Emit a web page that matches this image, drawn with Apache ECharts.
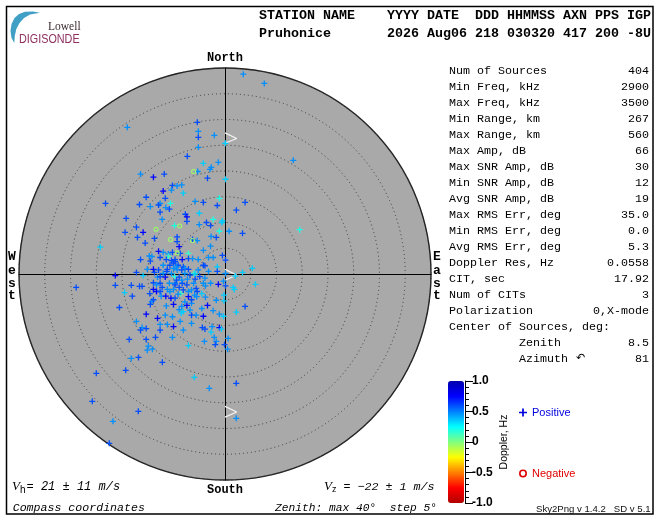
<!DOCTYPE html>
<html>
<head>
<meta charset="utf-8">
<title>Skymap</title>
<script src="https://cdn.jsdelivr.net/npm/echarts@6/dist/echarts.min.js"></script>
<style>html,body{margin:0;padding:0;background:#fff}#c{width:660px;height:520px}</style>
</head>
<body>
<div id="c"></div>
<script>
// Doppler shades (Hz)
const D=0.74,B=0.6,S=0.47,C=0.35,G=0.15;
// [east deg, north deg, Doppler Hz]
const positiveSources=[
[3.55,38.8,S],[7.63,37,S],[-18.97,28.49,S],[-5.38,29.46,B],[-5.18,27.71,S],[-5.18,26.54,B],[-2.08,26.93,S],[0.06,25.38,C],[-5.18,24.6,S],[-7.32,22.85,B],[-4.21,21.5,C],[-1.3,21.69,S],[13.26,22.08,S],[-2.66,20.72,S],[-2.91,20.33,S],
[-16.4,19.4,S],[-13.9,18.8,D],[-11.8,19.4,B],[-5.3,19.9,S],[-3.4,18.6,B],[0.1,18.4,C],[-10.2,17.2,B],[-9.3,17.1,S],[-8.4,17.3,S],[-10.4,16.3,S],[-12,16.1,D],[-8.1,15.7,C],[-15.3,14.9,B],[-11.6,14.7,B],[-1.1,14.7,0.2],
[-23.2,13.7,B],[-16.6,13.5,B],[-14.5,13.1,S],[-12.6,13.7,S],[-12.9,13.4,B],[-10.6,13.7,0.2],[-11.5,12.9,S],[-10.8,12.6,B],[-5.8,14.1,S],[-4.2,13.9,B],[-1.5,13.3,B],[3.9,13.9,B],[2.2,12.4,B],[-12.6,12,B],[-7.7,11.6,B],[-7.4,11.1,D],[-5,11.8,C],
[-19.2,10.8,B],[-12.2,10.6,S],[-7.4,10.2,B],[-2.3,10.6,0.2],[-0.5,10.3,C],[-0.6,10,C],[-3.6,10,B],[-5,9.6,S],[-2.8,9.4,B],[-9.8,9.4,0.2],[-17.2,9.1,B],[-1.1,8.3,0.2],[0.8,8.3,S],[-19.4,8.1,B],[-15.9,8.1,D],[3.4,7.9,B],
[-17,7.1,B],[-13.7,6.9,B],[-2.7,7.3,S],[-1.7,7.1,B],[-9.3,7.2,B],[-6.3,6.7,B],[-5.4,6.5,S],[-15.5,6,B],[-9.3,6.3,B],[-8.9,5.3,D],[-2.8,5.4,S],[-24.2,5.2,C],
[-12.9,4.4,D],[-4.2,4.6,S],[-10.2,4.2,B],[-12,4.2,S],[-11,3.9,S],[-8.7,4,B],[-7.1,4,G],[-14.7,3.5,S],[-14.2,3.4,S],[-12.6,3.2,B],[-16.4,2.8,B],[-11,3.4,G],[-11.4,2.8,B],[-10.4,2.6,B],[-9.7,2.8,B],[-8.3,2.8,D],[-7.1,3,B],[-6.3,3,S],[-5.2,2.8,S],[-3.2,3.2,S],[-2.3,3.2,S],[-0.5,3.6,B],[0.1,2.7,B],
[-14.5,2.5,B],[-10,2.1,B],[-9.1,1.7,B],[-8.1,1.4,B],[-7.8,1.1,S],[-4.2,1.7,B],[-3.9,1.6,B],[-1.5,1.4,C],[5.3,1.1,C],[-15.1,0.9,S],[-13.9,0.9,D],[-12.9,0.8,B],[-11.2,0.9,B],[-10,1.1,S],[-9.3,0.8,S],[-7.1,0.9,B],[-6,0.1,G],[-5.8,0,C],[-17.2,0.3,B],[-13.7,0.3,B],[-12,0.1,S],[-5.2,0.8,S],[-3.2,0.5,S],[-1.5,0.5,B],[0.1,0.1,S],[3.4,0.3,C],
[-21.3,-0.3,D],[-15.9,-0.3,C],[-13.1,-0.6,S],[-11.6,-0.6,D],[-9.8,-0.5,0.2],[-8.9,-0.6,B],[-7.3,-1,S],[-5.8,-1,B],[-0.3,-1.4,S],[2,-0.4,C],[-13.9,-1.7,B],[-12.6,-1.8,B],[-10.8,-1.8,S],[-9.7,-1.8,S],[-8.3,-1.8,B],[-6.1,-1.8,S],[-4.2,-1.8,S],[-3.8,-2.3,S],[-2.8,-1.8,S],[-1.3,-2,D],[0.1,-2.3,B],[5.9,-2,C],
[-21.3,-2.2,B],[-18.2,-2.2,B],[-16.6,-2.4,B],[-16.1,-2.4,B],[-13.9,-3,D],[-14.6,-3.8,B],[-13.3,-3.4,D],[-12.2,-2.6,B],[-11.2,-3,S],[-10,-3,S],[-8.9,-2.6,B],[-5.6,-2.8,B],[1.6,-2.6,C],[1.8,-3,C],[-19.5,-3.6,C],[-18,-4.3,B],[-14.2,-5.3,S],[-13.9,-5,B],[-12.4,-4.3,S],[-11.5,-4.3,D],[-10.5,-4.7,D],[-8.6,-3.8,G],[-7.1,-4.4,D],[-5.9,-4.1,S],[-4.5,-3.8,C],[-3.8,-4.5,S],[-1.7,-5.1,S],[-0.2,-4.1,C],[-0.2,-5.2,C],
[-20.5,-6.5,B],[-14.5,-5.9,B],[-11.4,-6.2,S],[-10,-5.9,D],[-8.9,-6.9,S],[-7.4,-6.1,D],[-6.5,-5.7,S],[-4.5,-6.7,S],[-3.4,-6.1,D],[-2.3,-7.1,S],[3.9,-6.3,B],[-15.3,-7.8,D],[-13.1,-8.6,D],[-11.6,-8,S],[-10.2,-8.3,S],[-8.5,-7.6,C],[-8.1,-7.3,C],[-6.5,-8,B],[-5.6,-8,S],[-4.2,-8.2,D],[-1.1,-7.8,S],[-0.3,-8.2,C],[2.2,-7.4,C],
[-17.2,-9.2,S],[-16.1,-10.4,S],[-15.3,-10.6,B],[-16.4,-10.9,B],[-12.6,-9.8,S],[-12.6,-10.9,B],[-11.2,-9.8,S],[-10,-10.2,D],[-8.7,-9.2,S],[-6.5,-9.6,S],[-8.1,-10.9,S],[-4.4,-10.4,B],[-3.9,-10.7,B],[-2.5,-10.2,S],[-1.1,-10.4,D],[-0.7,-10.7,C],[-2.7,-11.3,C],
[-13.5,-12.3,B],[-15.3,-12.7,B],[-18.6,-12.7,B],[-10.2,-12.3,S],[-2.1,-12.3,S],[-4,-13.1,S],[-1.7,-13.1,S],[0.6,-12.5,S],[-0.1,-13.7,B],[-1.9,-13.7,B],[-7.1,-13.9,C],[-14.9,-14,S],[-15.1,-14.8,S],[-14.1,-14.6,S],[0.5,-14.6,S],[-18.2,-16.4,S],[-16.8,-16.2,B],[-28.9,-2.6,B],
[-10.7,1.7,B],[-9.7,2.4,B],[-9.4,1.4,S],[-8.4,0.8,B],[-7.8,0.1,S],[-6.8,-0.2,B],[-12,1.7,S],[-12.6,-0.5,B],[-11.3,0.5,B],[-10.4,0.1,S],[-9.4,-1.2,B],[-8.4,-1.2,S],[-7.4,-2.1,B],[-6.5,-3.1,S],[-5.4,-3.4,B],[-7.1,-3.4,S],[-8.1,-3.1,B],[-9.1,-3.9,S],[-9.7,-4.7,B],[-6.5,-5,B],[-5.5,-4.4,S],[-7.8,-5.4,S],[-6.8,-7,S],[-8.4,-6.3,S],[-9.7,-2.1,B],[-10.7,-3.4,S],[-12.6,-3.4,B],[-13.3,-2.1,S],[-4.9,-0.5,B],[-3.9,-0.8,S],
[14.5,8.6,0.2],[-12.17,-17.15,B],[-24.99,-19.28,B],[-19.28,-18.7,B],[-5.96,-20.06,C],[2.19,-21.22,B],[-3.05,-22.19,S],[-25.77,-24.72,B],[-16.83,-26.66,B],[-21.75,-28.6,S],[2.19,-28.02,S],[-22.47,-32.87,B]
];
const negativeSources=[[-6.1,19.9,-0.05],[-8.8,9.3,-0.05],[-13.4,8.7,-0.05],[-10.6,6.7,-0.05],[-6.3,6.5,-0.05],[-9.3,4.1,-0.05]];
// white chevrons on the north-south line
const chevronNorth=[[0,27.4],[2.27,26.3],[0,25.4]];
const chevronCentre=[[0,0.9],[2.27,-0.2],[0,-1.2]];
const chevronSouth=[[0,-25.7],[2.27,-26.8],[0,-27.8]];

const colorStops=['#b00000','#ff0000','#ff8000','#ffff00','#80ff80','#00ffff','#0080ff','#0000ff','#0000b0'];

const headerLine1='YYYY DATE  DDD HHMMSS AXN PPS IGP';
const headerLine2='2026 Aug06 218 030320 417 200 -8U';
const statLabels=['Num of Sources','Min Freq, kHz','Max Freq, kHz','Min Range, km','Max Range, km','Max Amp, dB','Max SNR Amp, dB','Min SNR Amp, dB','Avg SNR Amp, dB','Max RMS Err, deg','Min RMS Err, deg','Avg RMS Err, deg','Doppler Res, Hz','CIT, sec','Num of CITs','Polarization'];
const statValues=['404','2900','3500','267','560','66','30','12','19','35.0','0.0','5.3','0.0558','17.92','3','0,X-mode'];

const MONO='"Liberation Mono",monospace', SANS='"Liberation Sans",sans-serif';
const PLUS='path://M-0.65,-3H0.65V-0.65H3V0.65H0.65V3H-0.65V0.65H-3V-0.65H-0.65Z';
const RING='path://M-5,0A5,5 0 1,1 5,0A5,5 0 1,1 -5,0ZM-3,0A3,3 0 1,0 3,0A3,3 0 1,0 -3,0Z';

function txt(x,y,text,opt){
  const o=opt||{};
  return {type:'text',x:x,y:y,z:20,silent:true,scaleX:o.scaleX||1,style:Object.assign({text:text,fill:'#000',font:(o.font||'11.67px '+MONO),textAlign:o.align||'left',textVerticalAlign:'middle'},o.style||{})};
}
const LETTER='bold 13px '+MONO;
const graphics=[
  {type:'rect',shape:{x:6.5,y:6.5,width:646.5,height:507.5},z:0,silent:true,style:{fill:'#fff',stroke:'#000',lineWidth:1.5}},
  {type:'polygon',z:20,silent:true,shape:{points:[[40,12.8],[33,11.6],[25,11.8],[19,14],[14.5,18],[11.5,24],[10.5,31],[11.5,38],[14.3,43],[14.8,36],[16.3,29],[19.5,23],[24,18],[30,14.5]]},style:{fill:'#3f9fc4'}},
  txt(48,27,'Lowell',{font:'11.5px "Liberation Serif",serif',style:{fill:'#3a2a30'}}),
  txt(19,39.5,'DIGISONDE',{font:'12px '+SANS,scaleX:0.9,style:{fill:'#8e2f60'}}),
  txt(259,16,'STATION NAME',{font:'bold 13.33px '+MONO}),
  txt(387,16,headerLine1,{font:'bold 13.33px '+MONO}),
  txt(259,34,'Pruhonice',{font:'bold 13.33px '+MONO}),
  txt(387,34,headerLine2,{font:'bold 13.33px '+MONO}),
  txt(225,58,'North',{align:'center',font:'bold 12px '+MONO}),
  txt(225,490,'South',{align:'center',font:'bold 12px '+MONO}),
  txt(12,257,'W',{align:'center',font:LETTER}),
  txt(12,271,'e',{align:'center',font:LETTER}),
  txt(12,283.5,'s',{align:'center',font:LETTER}),
  txt(12,296,'t',{align:'center',font:LETTER}),
  txt(437,257,'E',{align:'center',font:LETTER}),
  txt(437,271,'a',{align:'center',font:LETTER}),
  txt(437,283.5,'s',{align:'center',font:LETTER}),
  txt(437,296,'t',{align:'center',font:LETTER}),
  txt(449,327,'Center of Sources, deg:'),
  txt(519,343,'Zenith'),txt(649,343,'8.5',{align:'right'}),
  txt(519,359,'Azimuth'),txt(649,359,'81',{align:'right'}),
  txt(576,358,'\u21B6',{font:'11px "DejaVu Sans",sans-serif'}),
  {type:'text',x:12,y:487,z:20,silent:true,style:{text:'{v|V}{s|h}= 21 \u00B1 11 m/s',textVerticalAlign:'middle',font:'italic 12px '+MONO,fill:'#000',rich:{v:{font:'italic 13px "Liberation Serif",serif'},s:{font:'10px '+SANS,verticalAlign:'bottom',padding:[6,1,0,0]}}}},
  {type:'text',x:324,y:487,z:20,silent:true,style:{text:'{v|V}{s|z} = \u221222 \u00B1 1 m/s',textVerticalAlign:'middle',font:'italic 11.7px '+MONO,fill:'#000',rich:{v:{font:'italic 13px "Liberation Serif",serif'},s:{font:'9px '+SANS,verticalAlign:'bottom',padding:[6,0,0,0]}}}},
  txt(12.7,508,'Compass coordinates',{font:'italic 11.6px '+MONO}),
  txt(275,508,'Zenith: max 40\u00B0  step 5\u00B0',{font:'italic 11.25px '+MONO}),
  txt(536,509,'Sky2Png v 1.4.2   SD v 5.1',{font:'9.6px '+SANS,style:{fill:'#111'}})
];
statLabels.forEach((s,i)=>{
  graphics.push(txt(449,71+16*i,s));
  graphics.push(txt(649,71+16*i,statValues[i],{align:'right'}));
});

function chevron(d){return {type:'line',data:d,xAxisIndex:0,yAxisIndex:0,showSymbol:false,symbol:'none',silent:true,z:3,lineStyle:{color:'#f4f4f4',width:1.2},animation:false};}

const chart=echarts.init(document.getElementById('c'),null,{renderer:'canvas',width:660,height:520});
chart.setOption({
  animation:false,
  backgroundColor:'#fff',
  textStyle:{fontFamily:SANS},
  polar:{center:[225,274],radius:206},
  angleAxis:{z:1,type:'value',min:0,max:360,interval:90,startAngle:90,axisLine:{show:true,lineStyle:{color:'#222',width:1.4}},axisTick:{show:false},axisLabel:{show:false},splitLine:{show:false},
    splitArea:{show:true,areaStyle:{color:['#a9a9a9']}}},
  radiusAxis:{z:2,type:'value',min:0,max:40,interval:5,axisLine:{show:false},axisTick:{show:false},axisLabel:{show:false},
    splitArea:{show:false},
    splitLine:{show:true,lineStyle:{color:'#3c3c3c',width:1,type:[1,3]}}},
  grid:[
    {left:19,top:68,width:412,height:412},
    {left:464,top:381,width:1,height:122}
  ],
  xAxis:[
    {z:3,gridIndex:0,type:'value',min:-40,max:40,axisLine:{onZero:true,lineStyle:{color:'#000',width:1}},axisTick:{show:false},axisLabel:{show:false},splitLine:{show:false}},
    {gridIndex:1,type:'value',show:false,min:0,max:1}
  ],
  yAxis:[
    {z:3,gridIndex:0,type:'value',min:-40,max:40,axisLine:{onZero:true,lineStyle:{color:'#000',width:1}},axisTick:{show:false},axisLabel:{show:false},splitLine:{show:false}},
    {gridIndex:1,type:'value',position:'left',min:-1,max:1,interval:0.5,offset:-1,
      axisLine:{show:true,lineStyle:{color:'#000'}},
      axisTick:{show:true,inside:true,length:8,lineStyle:{color:'#000'}},
      minorTick:{show:true,splitNumber:5,length:4,lineStyle:{color:'#000'}},
      splitLine:{show:false},
      axisLabel:{show:false},
      name:''},
    {gridIndex:1,type:'value',position:'right',min:-1,max:1,interval:0.5,offset:7,
      axisLine:{show:false},axisTick:{show:false},splitLine:{show:false},
      axisLabel:{color:'#000',fontWeight:'bold',fontSize:12,fontFamily:SANS,margin:0,align:'left',
        formatter:v=>v===0?'0':v.toFixed(1)},
      name:'Doppler, Hz',nameLocation:'middle',nameRotate:90,nameGap:27,nameTextStyle:{color:'#000',fontSize:10.5,fontFamily:SANS}}
  ],
  visualMap:{type:'continuous',min:-1,max:1,dimension:2,seriesIndex:[0,1],calculable:false,realtime:false,text:null,showLabel:false,
    itemWidth:16,itemHeight:122,left:448,top:381,padding:0,inRange:{color:colorStops},textStyle:{fontSize:0},hoverLink:false},
  legend:{orient:'vertical',left:519,top:407,padding:0,itemWidth:8,itemHeight:8,itemGap:50,selectedMode:false,textStyle:{fontSize:11,fontFamily:SANS},
    data:[
      {name:'Positive',icon:PLUS,itemStyle:{color:'#0000e0'},textStyle:{color:'#0000e0'}},
      {name:'Negative',icon:RING,itemStyle:{color:'#e00000'},textStyle:{color:'#e00000'}}
    ]},
  graphic:{elements:graphics},
  series:[
    {name:'Positive',type:'scatter',xAxisIndex:0,yAxisIndex:0,data:positiveSources,symbol:PLUS,symbolSize:6,z:5,encode:{x:0,y:1},silent:true,itemStyle:{opacity:1}},
    {name:'Negative',type:'scatter',xAxisIndex:0,yAxisIndex:0,data:negativeSources,symbol:RING,symbolSize:5,z:5,encode:{x:0,y:1},silent:true,itemStyle:{opacity:1}},
    chevron(chevronNorth),chevron(chevronCentre),chevron(chevronSouth)
  ]
});
</script>
</body>
</html>
